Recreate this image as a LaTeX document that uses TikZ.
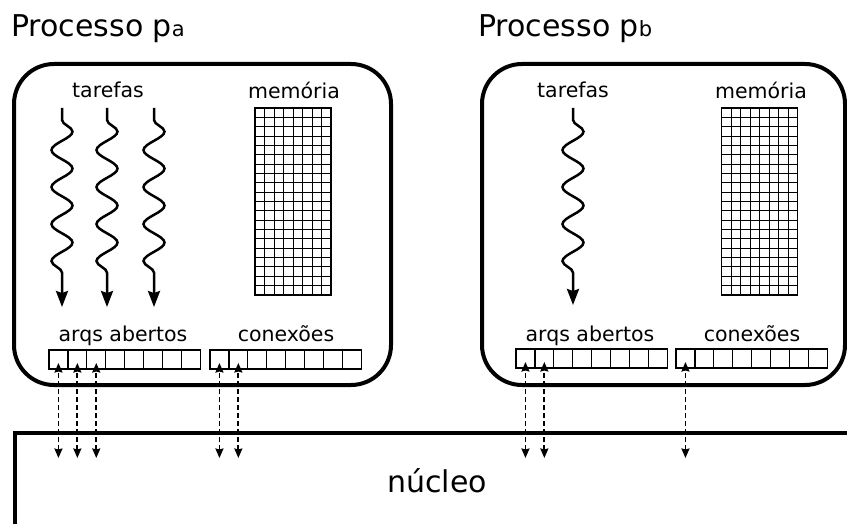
\documentclass[tikz,border=0pt]{standalone}
\usepackage{fontspec}
\setmainfont{DejaVu Sans}
\usetikzlibrary{decorations.pathmorphing,arrows.meta}
\tikzset{
  proc/.style={draw, line width=4pt, rounded corners=40pt, inner sep=0pt, outer sep=0pt},
  lbl/.style={font=\fontsize{20.5}{24}\selectfont, inner sep=0pt, anchor=base},
  ttl/.style={font=\fontsize{30}{36}\selectfont, inner sep=0pt, anchor=base west},
  cell/.style={draw, line width=1.3pt, minimum width=18.9pt, minimum height=19pt, inner sep=0pt, outer sep=0pt},
  memblock/.style={draw, line width=1.1pt, minimum width=76pt, minimum height=187pt, inner sep=0pt, outer sep=0pt},
  gridln/.style={line width=1pt},
  task/.style={line width=2.5pt, -{Stealth[length=16pt,width=12pt,inset=2pt]}},
  wave/.style={decoration={snake, segment length=37pt, amplitude=10.5pt}},
  io/.style={line width=1.8pt, dash pattern=on 4.5pt off 3.5pt,
    {Stealth[length=9.5pt,width=8pt,inset=1pt]}-{Stealth[length=9.5pt,width=8pt,inset=1pt]}},
  kern/.style={line width=4pt, line join=miter},
}
\newcommand{\subsm}[1]{{\fontsize{21}{21}\selectfont #1}}
\begin{document}
\begin{tikzpicture}[x=1pt,y=-1pt]
\useasboundingbox (0,0) rectangle (847,524);

% kernel
\draw[kern] (860,433) -- (15,433) -- (15,540);
\node[font=\fontsize{30}{36}\selectfont, inner sep=0pt, anchor=base] (nucleo) at (437,492) {núcleo};

% process boxes
\node[proc, minimum width=377pt, minimum height=321pt] (pa) at (202.5,224.5) {};
\node[proc, minimum width=363pt, minimum height=321pt] (pb) at (663.5,224.5) {};

% titles
\node[ttl] (ta) at (11,37) {Processo p\subsm{a}};
\node[ttl] (tb) at (478,37) {Processo p\subsm{b}};

% labels
\node[lbl] (tarA) at (108,98) {tarefas};
\node[lbl] (memlA) at (294,99) {memória};
\node[lbl] (tarB) at (573,98) {tarefas};
\node[lbl] (memlB) at (761,99) {memória};
\node[lbl] (arqA) at (123,341) {arqs abertos};
\node[lbl] (conA) at (286,341) {conexões};
\node[lbl] (arqB) at (590,341) {arqs abertos};
\node[lbl] (conB) at (752,341) {conexões};

% tasks
\coordinate (s1) at (62,108);  \coordinate (e1) at (62,307);
\coordinate (s2) at (107,108); \coordinate (e2) at (107,307);
\coordinate (s3) at (154,108); \coordinate (e3) at (154,307);
\coordinate (s4) at (573,108); \coordinate (e4) at (573,305);
\foreach \t in {1,2,3,4}
  \draw[task] (s\t) -- ([yshift=-12pt]s\t)
     decorate[wave]{ -- ([yshift=-168pt]s\t)} -- (e\t);

% memory grids
\node[memblock] (memA) at (293,201.5) {};
\node[memblock] (memB) at (759.5,201.5) {};
\foreach \m in {memA,memB}{
  \foreach \k in {1,...,7}
    \draw[gridln] ([xshift=\k*9.5pt]\m.north west) -- ([xshift=\k*9.5pt]\m.south west);
  \foreach \k in {1,...,19}
    \draw[gridln] ([yshift=-\k*9.35pt]\m.north west) -- ([yshift=-\k*9.35pt]\m.north east);
  \draw[line width=1.5pt] ([yshift=-93.5pt]\m.north west) -- ([yshift=-93.5pt]\m.north east);
}

% tables
\foreach \i in {1,...,8}{
  \node[cell] (fa\i) at ({49+(\i-0.5)*18.9},359.5) {};
  \node[cell] (ca\i) at ({210+(\i-0.5)*18.9},359.5) {};
  \node[cell] (fb\i) at ({516+(\i-0.5)*18.9},358.5) {};
  \node[cell] (cb\i) at ({676+(\i-0.5)*18.9},358.5) {};
}

% links to kernel
\coordinate (kbase) at (0,458);
\foreach \c in {fa1,fa2,fa3,ca1,ca2,fb1,fb2,cb1}
  \draw[io] (\c |- kbase) -- ([yshift=6pt]\c.south);
\end{tikzpicture}
\end{document}
